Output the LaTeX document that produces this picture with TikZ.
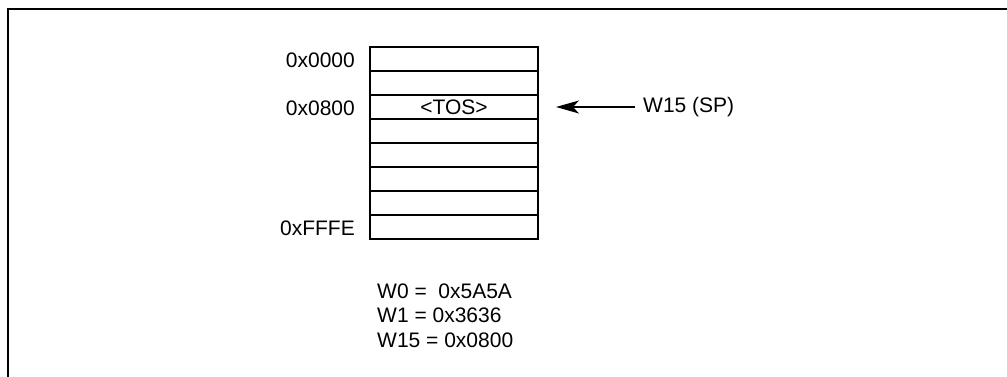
\documentclass[tikz,border=0pt]{standalone}
\usepackage{fontspec}
\setmainfont{Liberation Sans}
\usetikzlibrary{arrows.meta}
\begin{document}
\begin{tikzpicture}[x=1pt,y=-1pt,
  every node/.style={font=\fontsize{21}{24}\selectfont, inner sep=0pt},
  cell/.style={draw, line width=1.8pt, minimum width=168pt, minimum height=24pt},
  addr/.style={anchor=east},
  frameline/.style={line width=2pt},
  ptr/.style={line width=1.2pt, -{Stealth[length=23pt, width=13pt, inset=6pt]}},
  reg/.style={anchor=west}]
\useasboundingbox (0,0) rectangle (1007,377);
% outer frame (top and left edges)
\draw[frameline] (8,377) -- (8,9) -- (1007,9);
% stack cells
\node[cell] (r1) at (454,59) {};
\node[cell] (r2) at (454,83) {};
\node[cell] (r3) at (454,107) {<TOS>};
\node[cell] (r4) at (454,131) {};
\node[cell] (r5) at (454,155) {};
\node[cell] (r6) at (454,179) {};
\node[cell] (r7) at (454,203) {};
\node[cell] (r8) at (454,227) {};
% addresses
\node[addr] (a1) at (355,60) {0x0000};
\node[addr] (a3) at (355,108) {0x0800};
\node[addr] (a8) at (355,228) {0xFFFE};
% stack pointer
\node[anchor=west] (sp) at (643,107) {W15 (SP)};
\coordinate (tip) at (556,107);
\draw[ptr] ([xshift=-8pt]sp.west) -- (tip);
% registers
\node[reg] (w0) at (377,291) {W0 = \ 0x5A5A};
\node[reg] (w1) at (377,315) {W1 = 0x3636};
\node[reg] (w15) at (377,340) {W15 = 0x0800};
\end{tikzpicture}
\end{document}
